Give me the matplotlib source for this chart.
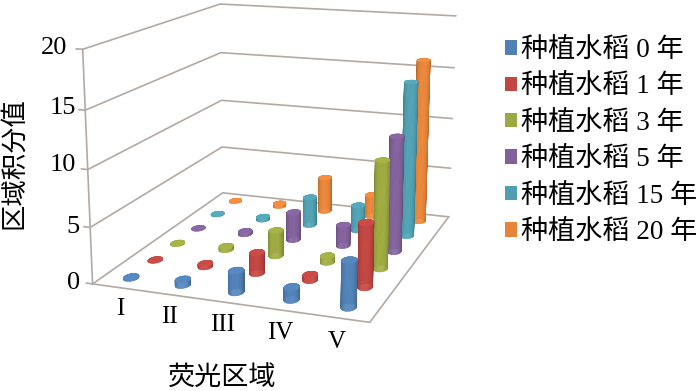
import numpy as np
import matplotlib
matplotlib.use('Agg')
import matplotlib.pyplot as plt
from matplotlib.patches import Patch

plt.rcParams['font.family'] = ['Liberation Serif', 'Noto Sans CJK SC']

regions = ['I', 'II', 'III', 'IV', 'V']
series_names = ['种植水稻 0 年', '种植水稻 1 年', '种植水稻 3 年', '种植水稻 5 年', '种植水稻 15 年', '种植水稻 20 年']
colors = ['#5080b4', '#bf4642', '#9ca841', '#81619a', '#509fb0', '#e5843a']
y_ticks = [0, 5, 10, 15, 20]

year_0 = [0.1, 0.5, 1.9, 1.1, 4.0]
year_1 = [0.05, 0.3, 1.9, 0.5, 5.7]
year_3 = [0.08, 0.35, 2.4, 0.6, 9.8]
year_5 = [0.05, 0.3, 2.7, 2.0, 10.8]
year_15 = [0.08, 0.3, 2.8, 2.5, 14.8]
year_20 = [0.08, 0.3, 3.5, 2.2, 16.0]
values = [year_0, year_1, year_3, year_5, year_15, year_20]

W, H = 700, 391
fig = plt.figure(figsize=(W / 100, H / 100), dpi=100)

# camera fitted to the corners of the box in the reference
ELEV, AZIM = 14.32, -70.11
FOCAL = 0.4856
BOX_Y, BOX_Z = 1.1677, 0.8254

ax = fig.add_axes([49.63 / W, 13.76 / H, 458.27 / W, 458.27 / H], projection='3d', computed_zorder=False)
ax.set_xlim(0, 5, view_margin=0)
ax.set_ylim(0, 6, view_margin=0)
ax.set_zlim(0, 20, view_margin=0)
ax.view_init(elev=ELEV, azim=AZIM, roll=0)
ax.set_proj_type('persp', focal_length=FOCAL)
ax.set_box_aspect((1, BOX_Y, BOX_Z))
ax.set_axis_off()
ax.patch.set_alpha(0)

rx = 0.125
ry = 1.4 * rx * (1 / 5) / (BOX_Y / 6)
view_angle = np.radians(AZIM)


def draw_cylinder(x, y, h, color, order):
    base = np.array(matplotlib.colors.to_rgb(color))
    th = np.linspace(0, 2 * np.pi, 49)
    X = np.array([x + rx * np.cos(th)] * 2)
    Y = np.array([y + ry * np.sin(th)] * 2)
    Z = np.array([np.zeros_like(th), np.full_like(th, h)])
    mid = (th[:-1] + th[1:]) / 2
    facing = np.cos(mid - view_angle)
    shade = np.clip(0.76 + 0.3 * facing, 0.7, 1.05)
    rgb = np.clip(base[None, :] * shade[:, None], 0, 1)
    fc = np.column_stack([rgb, np.ones(len(mid))])[None, :, :]
    ax.plot_surface(X, Y, Z, facecolors=fc, rstride=1, cstride=1, shade=False, linewidth=0.3, zorder=order)
    r = np.array([0.0, 1.0])
    Xt = x + rx * np.outer(r, np.cos(th))
    Yt = y + ry * np.outer(r, np.sin(th))
    Zt = np.full_like(Xt, h)
    top = np.clip(base * 1.08, 0, 1)
    ax.plot_surface(Xt, Yt, Zt, color=top, rstride=1, cstride=1, shade=False, linewidth=0.3,
                    edgecolor=top, zorder=order + 0.5)


grid = '#b3a9a3'
for z in y_ticks:
    ax.plot([0, 0, 5], [0, 6, 6], [z, z, z], color=grid, lw=1.2, zorder=1)
    ax.plot([0, -0.12], [0, 0], [z, z], color=grid, lw=1.2, zorder=1)
ax.plot([0, 5, 5], [0, 0, 6], [0, 0, 0], color=grid, lw=1.2, zorder=1)
ax.plot([0, 0], [0, 0], [0, 20], color=grid, lw=1.2, zorder=1)

order = 10
for j in range(len(values) - 1, -1, -1):
    for i in range(len(regions)):
        draw_cylinder(i + 0.5, j + 0.5, values[j][i], colors[j], order)
        order += 1

# axis labels sit by hand next to the box, pixels from the top left
tick_right = [80, 79, 76, 76, 67]
tick_y = [283, 227, 165, 108, 48]
for tick, px, py in zip(y_ticks, tick_right, tick_y):
    fig.text(px / W, 1 - py / H, str(tick), fontsize=19, ha='right', va='center')

region_x = [120, 169, 223, 280, 337]
region_y = [309, 317, 325, 333, 342]
for name, px, py in zip(regions, region_x, region_y):
    fig.text(px / W, 1 - py / H, name, fontsize=18, ha='center', va='center')

fig.text(14 / W, 1 - 163 / H, '区域积分值', rotation=90, fontsize=19, ha='center', va='center')
fig.text(222 / W, 1 - 379 / H, '荧光区域', fontsize=19.5, ha='center', va='center')

handles = [Patch(facecolor=c, edgecolor='none') for c in colors]
fig.legend(handles, series_names, loc='upper left', bbox_to_anchor=(505 / W, 1 - 38 / H), frameon=False, fontsize=19.5,
           handlelength=0.45, handleheight=0.45, handletextpad=0.15, labelspacing=0.42, borderpad=0, borderaxespad=0)

fig.savefig('out.png', dpi=100)
